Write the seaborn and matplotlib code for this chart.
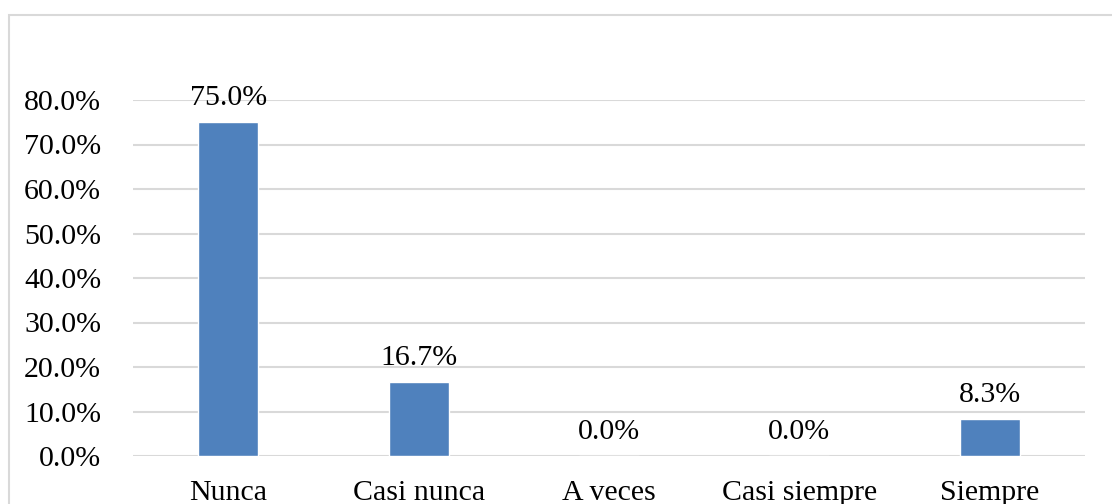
import matplotlib
matplotlib.use("Agg")
import matplotlib.pyplot as plt
import seaborn as sns
import pandas as pd
from matplotlib.patches import Rectangle
from matplotlib.ticker import FuncFormatter

categories = ["Nunca", "Casi nunca", "A veces", "Casi siempre", "Siempre"]
values = [0.750, 0.167, 0.000, 0.000, 0.083]
labels = ["75.0%", "16.7%", "0.0%", "0.0%", "8.3%"]
yticks = [0.0, 0.1, 0.2, 0.3, 0.4, 0.5, 0.6, 0.7, 0.8]

sns.set_theme(style="white")
plt.rcParams["font.family"] = ["Liberation Serif", "DejaVu Serif"]

df = pd.DataFrame({"categoria": categories, "valor": values})

fig = plt.figure(figsize=(11.12, 5.04), dpi=100)
fig.patch.set_facecolor("white")
# chart-area frame (open to the right and bottom)
fig.patches.append(Rectangle((9 / 1112, -0.1), 1.2, (1 - 15 / 504) + 0.1,
                             transform=fig.transFigure, fill=False,
                             edgecolor="#d9d9d9", linewidth=1.5, zorder=0))

ax = fig.add_axes([133 / 1112, 1 - 456 / 504, (1085 - 133) / 1112, (456 - 100) / 504])
sns.barplot(data=df, x="categoria", y="valor", color="#4F81BD", width=0.315,
            saturation=1, ax=ax, zorder=3)

ax.set_ylim(0, 0.8)
ax.set_xlim(-0.5, len(categories) - 0.5)
ax.set_yticks(yticks)
ax.yaxis.set_major_formatter(FuncFormatter(lambda v, p: f"{v * 100:.1f}%"))
ax.grid(axis="y", color="#d9d9d9", linewidth=1.5, zorder=0)
ax.set_axisbelow(True)
for s in ax.spines.values():
    s.set_visible(False)
ax.set_xlabel("")
ax.set_ylabel("")
ax.tick_params(axis="y", length=0, pad=23, labelsize=21.5, labelcolor="black")
ax.tick_params(axis="x", length=0, pad=17, labelsize=21.5, labelcolor="black")

for i, (v, t) in enumerate(zip(values, labels)):
    ax.annotate(t, xy=(i, v), xytext=(0, 8), textcoords="offset points",
                ha="center", va="bottom", fontsize=21.5, color="black")

fig.savefig("out.png", dpi=100, facecolor="white")
